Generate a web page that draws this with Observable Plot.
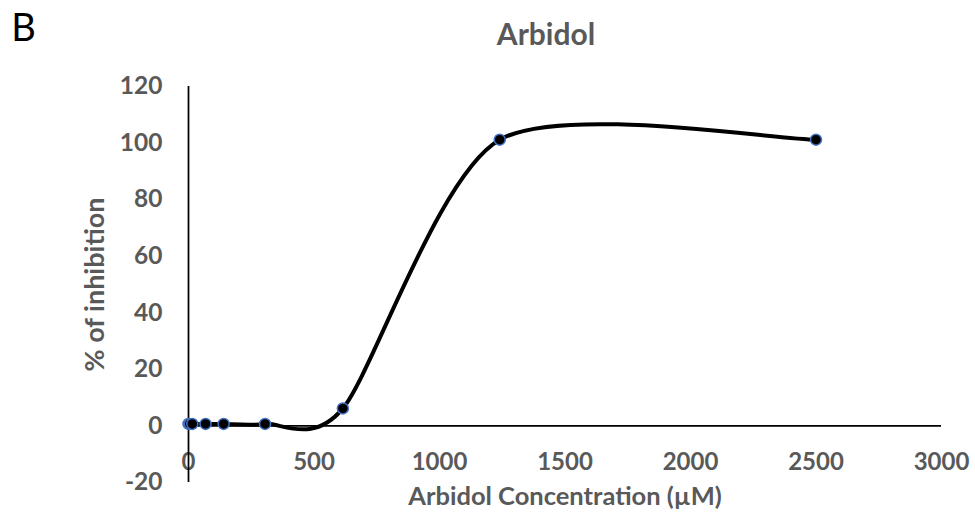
<!DOCTYPE html>
<html>
<head>
<meta charset="utf-8">
<script src="https://cdn.jsdelivr.net/npm/d3@7"></script>
<script src="https://cdn.jsdelivr.net/npm/@observablehq/plot@0.6"></script>
<style>
  html, body { margin: 0; padding: 0; background: #fff; }
  #chart svg { display: block; }
</style>
</head>
<body>
<div id="chart"></div>
<script>
// Data
const concentrations = [0, 5, 15, 68, 140, 305, 615, 1240, 2500];
const inhibition     = [0.7, 0.7, 0.7, 0.7, 0.7, 0.7, 6.2, 101.2, 101.2];
const xTicks = [0, 500, 1000, 1500, 2000, 2500, 3000];
const yTicks = [-20, 0, 20, 40, 60, 80, 100, 120];
const chartTitle = "Arbidol";
const panelLetter = "B";
const xLabel = "Arbidol Concentration (µM)";
const yLabel = "% of inhibition";

const data = concentrations.map((c, i) => ({conc: c, inh: inhibition[i]}));

// Spreadsheet-style smoothed line (Bezier with neighbour-based tangents)
function smoothCurve(context) {
  let pts = [];
  const k = 0.13;
  return {
    areaStart() {}, areaEnd() {},
    lineStart() { pts = []; },
    point(x, y) { pts.push([+x, +y]); },
    lineEnd() {
      const n = pts.length;
      if (!n) return;
      context.moveTo(pts[0][0], pts[0][1]);
      for (let i = 0; i < n - 1; i++) {
        const p0 = pts[Math.max(i - 1, 0)], p1 = pts[i], p2 = pts[i + 1], p3 = pts[Math.min(i + 2, n - 1)];
        context.bezierCurveTo(
          p1[0] + k * (p2[0] - p0[0]), p1[1] + k * (p2[1] - p0[1]),
          p2[0] - k * (p3[0] - p1[0]), p2[1] - k * (p3[1] - p1[1]),
          p2[0], p2[1]);
      }
    }
  };
}

const font = "Lato, 'Open Sans', sans-serif";
const gray = "#595959";

const chart = Plot.plot({
  width: 975,
  height: 526,
  marginTop: 86,
  marginBottom: 44,
  marginLeft: 188,
  marginRight: 34,
  style: {fontFamily: font, background: "#fff", color: gray},
  x: {domain: [0, 3000], ticks: xTicks},
  y: {domain: [-20, 120], ticks: yTicks},
  marks: [
    Plot.axisY({ticks: yTicks, tickFormat: d => String(d), tickSize: 0, tickPadding: 26, fontSize: 24.5, fontWeight: "bold", fill: gray, label: null}),
    Plot.axisX({ticks: xTicks, tickFormat: d => String(d), tickSize: 0, tickPadding: -30, fontSize: 24, fontWeight: "bold", fill: gray, label: null}),
    Plot.ruleX([0], {stroke: "black", strokeWidth: 1.75}),
    Plot.ruleY([0], {stroke: "black", strokeWidth: 1.75}),
    Plot.line(data, {x: "conc", y: "inh", curve: smoothCurve, stroke: "black", strokeWidth: 4}),
    Plot.dot(data, {x: "conc", y: "inh", r: 5.5, fill: "black", stroke: "#4472C4", strokeWidth: 1.5}),
    Plot.text([chartTitle], {frameAnchor: "top", dx: -19, dy: -63, fontSize: 30, fontWeight: "bold", fill: gray}),
    Plot.text([panelLetter], {frameAnchor: "top-left", dx: -165, dy: -72, textAnchor: "middle", fontSize: 38, fill: "black"}),
    Plot.text([xLabel], {frameAnchor: "bottom", dy: 22, fontSize: 25.5, fontWeight: "bold", fill: gray}),
    Plot.text([yLabel], {frameAnchor: "left", textAnchor: "middle", dx: -93, rotate: -90, fontSize: 27, fontWeight: "bold", fill: gray})
  ]
});
document.getElementById("chart").appendChild(chart);
</script>
</body>
</html>
